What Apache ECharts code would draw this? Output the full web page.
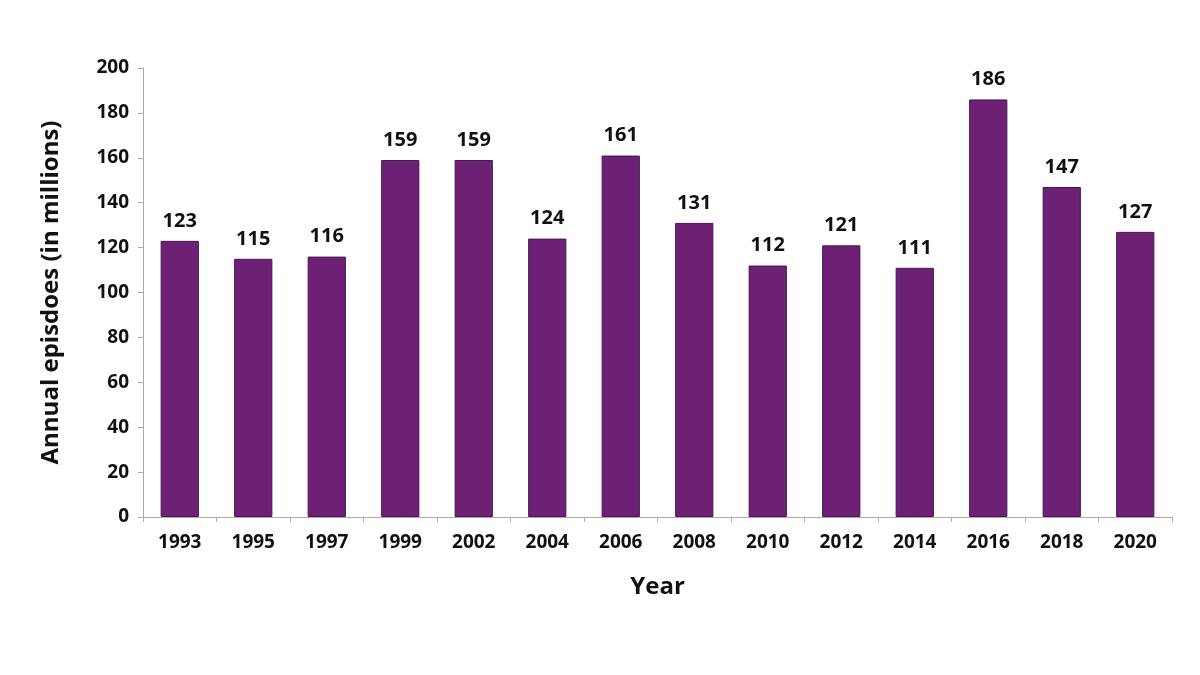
<!DOCTYPE html>
<html><head><meta charset="utf-8">
<script src="https://cdn.jsdelivr.net/npm/echarts@6/dist/echarts.min.js"></script>
<style>html,body{margin:0;padding:0;background:#fff}#c{width:1200px;height:675px}</style>
</head><body><div id="c"></div>
<script>
const categories = ['1993','1995','1997','1999','2002','2004','2006','2008','2010','2012','2014','2016','2018','2020'];
const values = [123,115,116,159,159,124,161,131,112,121,111,186,147,127];
const yTicks = {min:0, max:200, interval:20};
const font = '"Open Sans", "Liberation Sans", sans-serif';
const chart = echarts.init(document.getElementById('c'));
chart.setOption({
  animation:false,
  grid:{left:143, right:28, top:68, bottom:158},
  xAxis:{type:'category', data:categories, name:'Year', nameLocation:'middle', nameGap:58,
    nameTextStyle:{fontFamily:font, fontWeight:'bold', fontSize:24, color:'#111'},
    axisLine:{lineStyle:{color:'#aaa'}}, axisTick:{show:true, lineStyle:{color:'#aaa'}},
    axisLabel:{fontFamily:font, fontWeight:'bold', fontSize:19, color:'#111', margin:16}},
  yAxis:{type:'value', min:yTicks.min, max:yTicks.max, interval:yTicks.interval,
    name:'Annual episdoes (in millions)', nameLocation:'middle', nameGap:80,
    nameTextStyle:{fontFamily:font, fontWeight:'bold', fontSize:24, color:'#111'},
    axisLine:{show:true, lineStyle:{color:'#aaa'}}, axisTick:{show:true, lineStyle:{color:'#aaa'}},
    splitLine:{show:false},
    axisLabel:{fontFamily:font, fontWeight:'bold', fontSize:19, color:'#111', margin:14}},
  series:[{type:'bar', data:values, barWidth:'52%',
    itemStyle:{color:'#6C2174', borderColor:'#4a1450', borderWidth:1},
    label:{show:true, position:'top', distance:10, fontFamily:font, fontWeight:'bold', fontSize:20, color:'#111'}}]
});
</script></body></html>
